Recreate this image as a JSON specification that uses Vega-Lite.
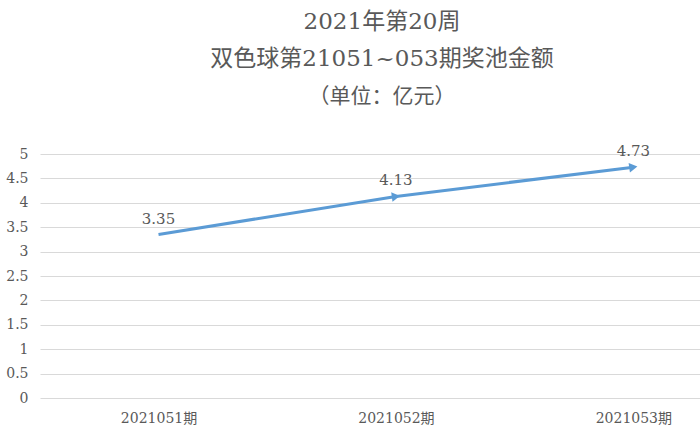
{
  "$schema": "https://vega.github.io/schema/vega-lite/v6.json",
  "autosize": "none",
  "width": 660,
  "height": 244,
  "padding": {"left": 40, "top": 154, "right": 0, "bottom": 35},
  "background": "white",
  "config": {
    "view": {"stroke": null},
    "font": "'DejaVu Serif', 'Noto Sans CJK SC'"
  },
  "title": {
    "text": ["2021年第20周", "双色球第21051~053期奖池金额"],
    "subtitle": "（单位：亿元）",
    "anchor": "middle",
    "frame": "group",
    "dx": 12,
    "fontSize": 23,
    "fontWeight": "normal",
    "lineHeight": 37,
    "color": "#595959",
    "subtitleFontSize": 21,
    "subtitleColor": "#595959",
    "subtitlePadding": 15,
    "subtitleFont": "'DejaVu Serif', 'Noto Sans CJK SC'",
    "font": "'DejaVu Serif', 'Noto Sans CJK SC'",
    "offset": 37
  },
  "data": {
    "values": [
      {"period": "2021051期", "amount": 3.35},
      {"period": "2021052期", "amount": 4.13},
      {"period": "2021053期", "amount": 4.73}
    ]
  },
  "encoding": {
    "x": {
      "field": "period",
      "type": "ordinal",
      "sort": null,
      "scale": {"type": "point", "padding": 0.39, "align": 0.64},
      "axis": {
        "title": null,
        "labelAngle": 0,
        "ticks": false,
        "domain": false,
        "labelFontSize": 14,
        "labelColor": "#595959",
        "labelPadding": 13,
        "labelFont": "'DejaVu Serif', 'Noto Sans CJK SC'"
      }
    },
    "y": {
      "field": "amount",
      "type": "quantitative",
      "scale": {"domain": [0, 5], "nice": false},
      "axis": {
        "title": null,
        "values": [0, 0.5, 1, 1.5, 2, 2.5, 3, 3.5, 4, 4.5, 5],
        "format": "~g",
        "ticks": false,
        "domain": false,
        "gridColor": "#D9D9D9",
        "gridWidth": 1,
        "labelFontSize": 14,
        "labelColor": "#595959",
        "labelPadding": 12,
        "labelFont": "'DejaVu Serif', 'Noto Sans CJK SC'"
      }
    }
  },
  "layer": [
    {
      "mark": {"type": "line", "color": "#5B9BD5", "strokeWidth": 3}
    },
    {
      "transform": [{"filter": "datum.period != '2021051期'"}],
      "mark": {"type": "point", "shape": "triangle-right", "filled": true, "opacity": 1, "color": "#5B9BD5", "size": 90, "angle": -8}
    },
    {
      "mark": {"type": "text", "baseline": "bottom", "dy": -8, "fontSize": 15, "color": "#595959", "font": "'DejaVu Serif', 'Noto Sans CJK SC'"},
      "encoding": {"text": {"field": "amount", "type": "quantitative", "format": ".2f"}}
    }
  ]
}
